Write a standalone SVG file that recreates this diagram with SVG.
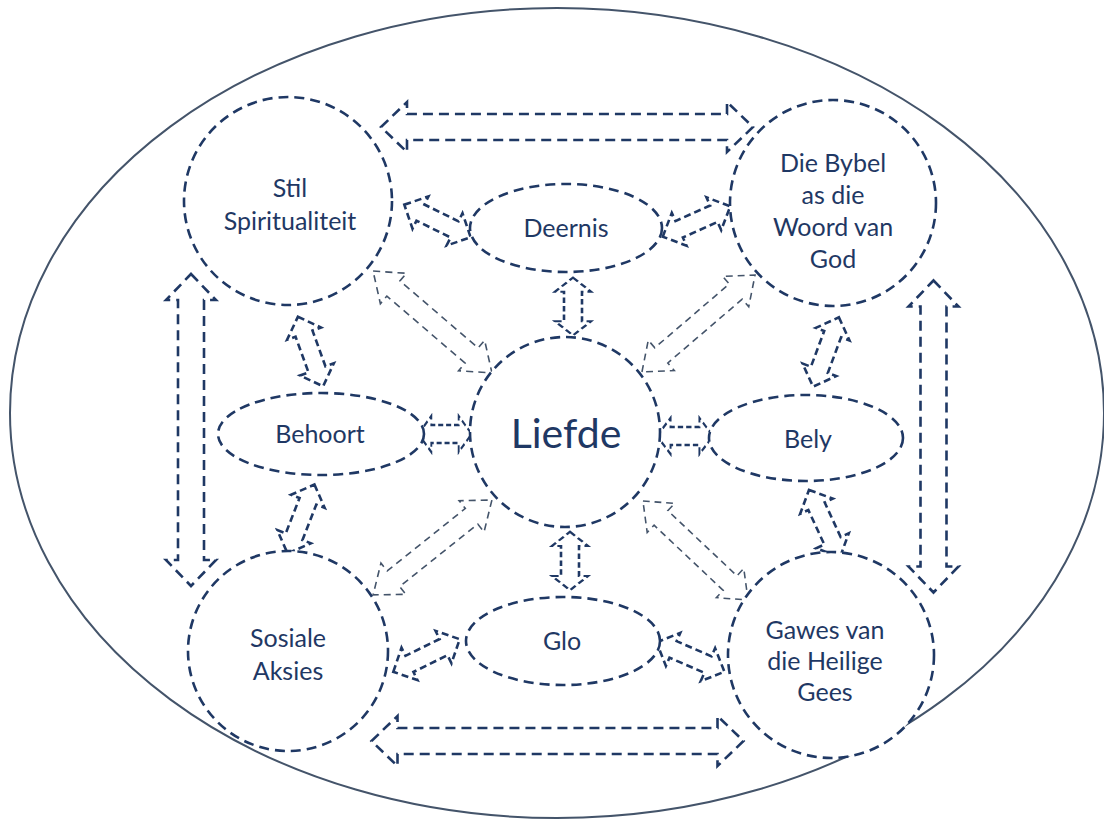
<svg xmlns="http://www.w3.org/2000/svg" width="1104" height="820" viewBox="0 0 1104 820">
  <style>
    .frame { fill: #ffffff; stroke: #44546a; stroke-width: 2; }
    .node { fill: #ffffff; stroke: #1f3864; stroke-width: 2.6; stroke-dasharray: 10 6; }
    .big { fill: none; stroke: #1f3864; stroke-width: 2.6; stroke-dasharray: 10 6; }
    .dark { fill: none; stroke: #1f3864; stroke-width: 2.6; stroke-dasharray: 7 4; }
    .grey { fill: none; stroke: #44546a; stroke-width: 1.6; stroke-dasharray: 7 5; }
    .lbl { font-family: Lato, "Open Sans", "Liberation Sans", sans-serif; font-size: 25px; fill: #1f3864; text-anchor: middle; }
    .core { font-size: 41px; }
  </style>
  <defs>
    <!-- double-headed block arrows, centred on the origin, pointing along x -->
    <path id="dbl-s" d="M-37,0 L-19,-18 L-19,-9 L19,-9 L19,-18 L37,0 L19,18 L19,9 L-19,9 L-19,18 Z"/>
    <path id="dbl-g" d="M-76,0 L-50,-20 L-50,-10 L50,-10 L50,-20 L76,0 L50,20 L50,10 L-50,10 L-50,20 Z"/>
    <path id="dbl-h" d="M-186,0 L-160,-25 L-160,-13 L160,-13 L160,-25 L186,0 L160,25 L160,13 L-160,13 L-160,25 Z"/>
    <path id="dbl-v" d="M-156,0 L-130,-25 L-130,-13 L130,-13 L130,-25 L156,0 L130,25 L130,13 L-130,13 L-130,25 Z"/>
  </defs>

  <rect width="1104" height="820" fill="#ffffff"/>
  <ellipse class="frame" cx="557" cy="413" rx="547" ry="405"/>

  <g id="connectors">
    <!-- outer ring -->
    <use href="#dbl-h" class="big" transform="translate(567,127)"/>
    <use href="#dbl-h" class="big" transform="translate(557.5,741)"/>
    <use href="#dbl-v" class="big" transform="translate(191,430) rotate(90)"/>
    <use href="#dbl-v" class="big" transform="translate(933.5,436.5) rotate(90)"/>
    <!-- neighbouring nodes -->
    <use href="#dbl-s" class="dark" transform="translate(437.5,221) rotate(26.2)"/>
    <use href="#dbl-s" class="dark" transform="translate(696.5,221.5) rotate(-24.2)"/>
    <use href="#dbl-s" class="dark" transform="translate(573,306.5) rotate(90) scale(0.78,1)"/>
    <use href="#dbl-s" class="dark" transform="translate(570,561) rotate(90) scale(0.79,1)"/>
    <use href="#dbl-s" class="dark" transform="translate(445,434) scale(0.72,1)"/>
    <use href="#dbl-s" class="dark" transform="translate(685,436) scale(0.76,1)"/>
    <use href="#dbl-s" class="dark" transform="translate(310.5,351.5) rotate(70.1)"/>
    <use href="#dbl-s" class="dark" transform="translate(301,519) rotate(111.3)"/>
    <use href="#dbl-s" class="dark" transform="translate(826,352) rotate(110.4)"/>
    <use href="#dbl-s" class="dark" transform="translate(824.5,523.5) rotate(65.2)"/>
    <use href="#dbl-s" class="dark" transform="translate(426.5,655.5) rotate(-26.2)"/>
    <use href="#dbl-s" class="dark" transform="translate(690.5,657) rotate(23.5)"/>
    <!-- diagonals to the centre -->
    <use href="#dbl-g" class="grey" transform="translate(432.5,322) rotate(40.6) scale(1.03,1)"/>
    <use href="#dbl-g" class="grey" transform="translate(698.5,323.5) rotate(-40.6) scale(0.98,1)"/>
    <use href="#dbl-g" class="grey" transform="translate(432.5,547.5) rotate(141.4)"/>
    <use href="#dbl-g" class="grey" transform="translate(695.5,550.5) rotate(43.3) scale(0.95,1)"/>
  </g>

  <g id="node-liefde">
    <circle class="node" cx="565" cy="432" r="95"/>
    <text class="lbl core" x="566" y="448">Liefde</text>
  </g>
  <g id="node-stil">
    <circle class="node" cx="288" cy="201" r="104"/>
    <text class="lbl" x="290" y="197">Stil</text>
    <text class="lbl" x="290" y="230">Spiritualiteit</text>
  </g>
  <g id="node-bybel">
    <circle class="node" cx="833" cy="203" r="103"/>
    <text class="lbl" x="833" y="172">Die Bybel</text>
    <text class="lbl" x="833" y="204">as die</text>
    <text class="lbl" x="833" y="236">Woord van</text>
    <text class="lbl" x="833" y="268">God</text>
  </g>
  <g id="node-sosiale">
    <circle class="node" cx="288" cy="651" r="100"/>
    <text class="lbl" x="288" y="647">Sosiale</text>
    <text class="lbl" x="288" y="680">Aksies</text>
  </g>
  <g id="node-gawes">
    <circle class="node" cx="831" cy="655" r="103"/>
    <text class="lbl" x="825" y="639">Gawes van</text>
    <text class="lbl" x="825" y="670">die Heilige</text>
    <text class="lbl" x="825" y="701">Gees</text>
  </g>
  <g id="node-deernis">
    <ellipse class="node" cx="566" cy="228" rx="96" ry="44"/>
    <text class="lbl" x="566" y="237">Deernis</text>
  </g>
  <g id="node-behoort">
    <ellipse class="node" cx="321" cy="434" rx="103" ry="41"/>
    <text class="lbl" x="320" y="443">Behoort</text>
  </g>
  <g id="node-bely">
    <ellipse class="node" cx="806" cy="438" rx="97" ry="43"/>
    <text class="lbl" x="808" y="448">Bely</text>
  </g>
  <g id="node-glo">
    <ellipse class="node" cx="563" cy="641" rx="97" ry="44"/>
    <text class="lbl" x="562" y="650">Glo</text>
  </g>
</svg>
